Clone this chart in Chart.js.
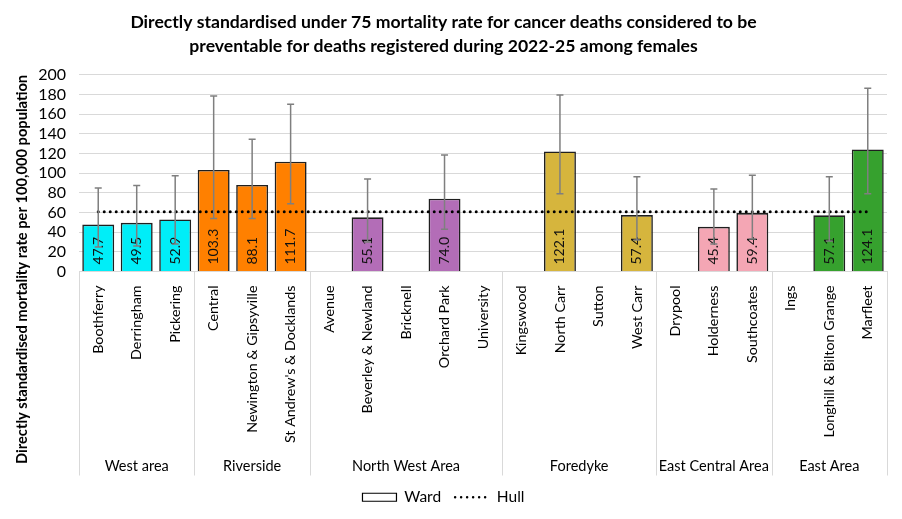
<!DOCTYPE html>
<html>
<head>
<meta charset="utf-8">
<script src="https://cdn.jsdelivr.net/npm/chart.js@4.4.1/dist/chart.umd.min.js"></script>
<style>
  html, body { margin: 0; padding: 0; background: #fff; }
  #wrap { width: 902px; height: 519px; }
</style>
</head>
<body>
<div id="wrap"><canvas id="myChart"></canvas></div>
<script>
// wards, in the order they appear along the axis
var wards = ['Boothferry', 'Derringham', 'Pickering',
    'Central', 'Newington & Gipsyville', "St Andrew's & Docklands",
    'Avenue', 'Beverley & Newland', 'Bricknell', 'Orchard Park', 'University',
    'Kingswood', 'North Carr', 'Sutton', 'West Carr',
    'Drypool', 'Holderness', 'Southcoates',
    'Ings', 'Longhill & Bilton Grange', 'Marfleet'];
var areas = ['West area', 'Riverside', 'North West Area', 'Foredyke', 'East Central Area', 'East Area'];
var areaSizes = [3, 3, 5, 4, 3, 3];
var areaColours = ['#00EEF8', '#FF8000', '#B36DB7', '#D6B53D', '#F4A6B4', '#36A12E'];

var rates   = [47.7, 49.5, 52.9, 103.3, 88.1, 111.7, null, 55.1, null, 74.0, null, null, 122.1, null, 57.4, null, 45.4, 59.4, null, 57.1, 124.1];
var lowerCI = [25, 26, 28, 54, 54, 69, null, 30, null, 43, null, null, 79, null, 32, null, 28, 33, null, 31, 79];
var upperCI = [85, 87.5, 97.5, 178.5, 134.5, 170, null, 94, null, 118.5, null, null, 179.5, null, 96.5, null, 84, 98, null, 96.5, 186.5];
var hull    = [60.7, 60.7, 60.7, 60.7, 60.7, 60.7, 60.7, 60.7, 60.7, 60.7, 60.7, 60.7, 60.7, 60.7, 60.7, 60.7, 60.7, 60.7, 60.7, 60.7, 60.7];

var yTicks = [0, 20, 40, 60, 80, 100, 120, 140, 160, 180, 200];

var FONT = 'Lato, "Noto Sans", sans-serif';

// colour of each bar comes from its area
var barColours = [];
for (var a = 0; a < areas.length; a++) {
    for (var k = 0; k < areaSizes[a]; k++) barColours.push(areaColours[a]);
}

var extrasPlugin = {
    id: 'extras',
    afterDatasetsDraw: function (chart) {
        var ctx = chart.ctx;
        var ys = chart.scales.y;
        var meta = chart.getDatasetMeta(1);
        ctx.save();
        // value labels inside the bars
        ctx.font = '14px ' + FONT;
        ctx.fillStyle = '#111';
        ctx.textAlign = 'left';
        ctx.textBaseline = 'middle';
        for (var i = 0; i < rates.length; i++) {
            if (rates[i] == null) continue;
            var bx = meta.data[i].x;
            ctx.save();
            ctx.translate(bx, ys.getPixelForValue(0) - 7);
            ctx.rotate(-Math.PI / 2);
            ctx.fillText(rates[i].toFixed(1), 0, 0);
            ctx.restore();
        }
        // error bars
        ctx.strokeStyle = '#7F7F7F';
        ctx.lineWidth = 1.5;
        for (var j = 0; j < rates.length; j++) {
            if (upperCI[j] == null) continue;
            var x = meta.data[j].x;
            var yl = ys.getPixelForValue(lowerCI[j]);
            var yu = ys.getPixelForValue(upperCI[j]);
            ctx.beginPath();
            ctx.moveTo(x, yl); ctx.lineTo(x, yu);
            ctx.moveTo(x - 3.5, yl); ctx.lineTo(x + 3.5, yl);
            ctx.moveTo(x - 3.5, yu); ctx.lineTo(x + 3.5, yu);
            ctx.stroke();
        }
        ctx.restore();
    },
    afterDraw: function (chart) {
        var ctx = chart.ctx;
        var xs = chart.scales.x;
        var step = (xs.right - xs.left) / wards.length;
        var top = chart.chartArea.bottom;
        var bottom = xs.bottom;
        ctx.save();
        ctx.strokeStyle = '#D9D9D9';
        ctx.lineWidth = 1;
        ctx.font = '14.5px ' + FONT;
        ctx.fillStyle = '#000';
        ctx.textAlign = 'center';
        ctx.textBaseline = 'middle';
        var start = 0;
        for (var a = 0; a <= areas.length; a++) {
            var px = Math.round(xs.left + start * step) + 0.5;
            ctx.beginPath();
            ctx.moveTo(px, top); ctx.lineTo(px, bottom);
            ctx.stroke();
            if (a < areas.length) {
                var mid = xs.left + (start + areaSizes[a] / 2) * step;
                ctx.fillText(areas[a], mid, bottom - 9);
                start += areaSizes[a];
            }
        }
        ctx.restore();
    }
};

var ctx = document.getElementById('myChart').getContext('2d');
new Chart(ctx, {
    type: 'bar',
    data: {
        labels: wards,
        datasets: [{
            type: 'line',
            label: 'Hull',
            data: hull,
            borderColor: '#000',
            borderWidth: 3,
            borderDash: [0, 6],
            borderCapStyle: 'round',
            pointRadius: 0,
            fill: false,
            order: 0
        }, {
            label: 'Ward',
            data: rates,
            backgroundColor: barColours,
            borderColor: '#1f1f1f',
            borderWidth: 1.6,
            barPercentage: 0.83,
            categoryPercentage: 1,
            order: 1
        }]
    },
    options: {
        responsive: true,
        maintainAspectRatio: false,
        animation: false,
        layout: { padding: { left: 0, right: 15, top: 0, bottom: 4 } },
        plugins: {
            title: {
                display: true,
                text: ['Directly standardised under 75 mortality rate for cancer deaths considered to be',
                       'preventable for deaths registered during 2022-25 among females'],
                font: { family: FONT, size: 17.6, weight: 'bold', lineHeight: 1.36 },
                color: '#000',
                padding: { top: 10, bottom: 17 }
            },
            legend: {
                position: 'bottom',
                labels: {
                    usePointStyle: true,
                    pointStyleWidth: 34,
                    boxHeight: 8,
                    padding: 14,
                    color: '#000',
                    font: { family: FONT, size: 15.5 },
                    generateLabels: function () {
                        return [
                            { text: 'Ward', fillStyle: '#fff', strokeStyle: '#000', lineWidth: 1.2, pointStyle: 'rect', datasetIndex: 1 },
                            { text: 'Hull', fillStyle: 'rgba(0,0,0,0)', strokeStyle: '#000', lineWidth: 2.5, lineDash: [0, 6], lineCap: 'round', pointStyle: 'line', datasetIndex: 0 }
                        ];
                    }
                }
            },
            tooltip: { enabled: false }
        },
        scales: {
            x: {
                grid: { display: false },
                border: { display: true, color: '#D9D9D9' },
                ticks: {
                    autoSkip: false,
                    maxRotation: 90,
                    minRotation: 90,
                    padding: 6,
                    color: '#000',
                    font: { family: FONT, size: 14.3 }
                },
                afterFit: function (scale) { scale.height = 204; }
            },
            y: {
                min: 0,
                max: 200,
                afterBuildTicks: function (scale) {
                    scale.ticks = yTicks.map(function (v) { return { value: v }; });
                },
                grid: { color: '#D9D9D9', drawTicks: false },
                border: { display: false },
                ticks: {
                    autoSkip: false,
                    padding: 13,
                    color: '#000',
                    font: { family: FONT, size: 16 }
                },
                title: {
                    display: true,
                    text: 'Directly standardised mortality rate per 100,000 population',
                    align: 'end',
                    color: '#000',
                    font: { family: FONT, size: 14.7, weight: 'bold' },
                    padding: { top: 13, bottom: 0 }
                },
                afterFit: function (scale) { scale.width = 79; }
            }
        }
    },
    plugins: [extrasPlugin]
});
</script>
</body>
</html>
